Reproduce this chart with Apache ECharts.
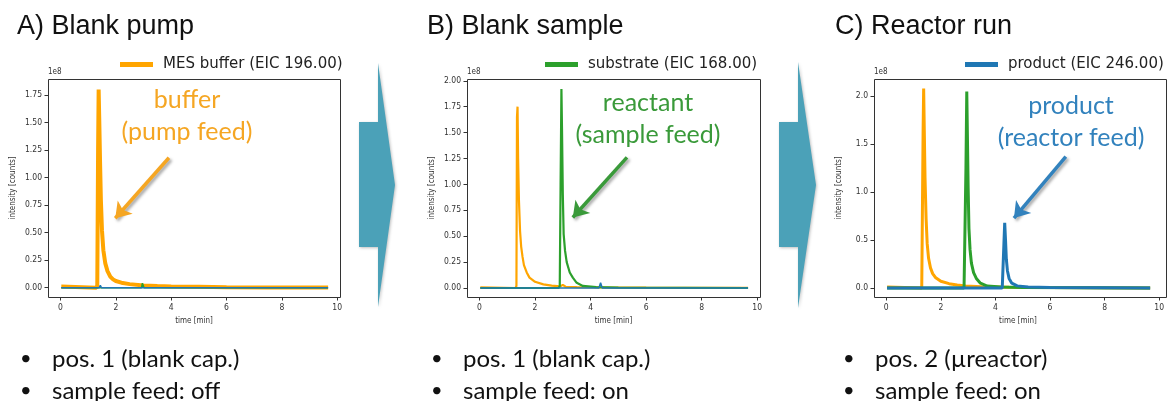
<!DOCTYPE html>
<html>
<head>
<meta charset="utf-8">
<script src="https://cdn.jsdelivr.net/npm/echarts@6/dist/echarts.min.js"></script>
<style>
  html, body { margin: 0; padding: 0; background: #fff; }
  #chart { width: 1167px; height: 401px; }
</style>
</head>
<body>
<div id="chart"></div>
<script>
// retention time [min], intensity [1e8 counts]
// A) blank pump
var pumpBuffer = [[0.03,0.01],[0.08,0],[1.30,0],[1.33,0.02],[1.36,1.25],[1.38,1.80],[1.40,1.55],[1.43,1.15],[1.46,0.80],[1.50,0.52],[1.55,0.34],[1.62,0.22],[1.70,0.15],[1.80,0.10],[1.90,0.075],[2.00,0.06],[2.20,0.045],[2.50,0.032],[3.00,0.02],[3.50,0.014],[4.00,0.01],[5.00,0.007],[6.00,0.004],[7.50,0.002],[9.67,0.001]];
var pumpSubstrate = [[0.03,0],[2.93,0],[2.96,0.04],[2.99,0.03],[3.02,0],[9.67,0]];
var pumpProduct = [[0.03,0],[1.40,0],[1.44,0.02],[1.48,0],[9.67,0]];

// B) blank sample
var sampleBuffer = [[0.03,0.005],[1.30,0],[1.33,0.02],[1.35,1.65],[1.37,1.75],[1.39,1.25],[1.42,0.85],[1.46,0.55],[1.50,0.40],[1.55,0.30],[1.60,0.22],[1.70,0.15],[1.80,0.10],[2.00,0.06],[2.30,0.035],[2.60,0.022],[2.90,0.015],[3.00,0.03],[3.10,0.012],[3.50,0.008],[4.50,0.005],[6.00,0.003],[9.67,0.001]];
var sampleSubstrate = [[0.03,0],[2.85,0],[2.89,0.02],[2.92,1.0],[2.95,1.92],[2.97,1.55],[3.00,0.90],[3.03,0.52],[3.08,0.36],[3.14,0.25],[3.25,0.15],[3.36,0.10],[3.50,0.05],[3.72,0.02],[4.20,0.008],[5.00,0.004],[9.67,0]];
var sampleProduct = [[0.03,0],[4.30,0],[4.36,0.05],[4.42,0],[9.67,0]];

// C) reactor run
var reactorBuffer = [[0.03,0.01],[0.08,0],[1.30,0],[1.33,0.02],[1.35,1.65],[1.37,2.08],[1.39,1.70],[1.42,1.15],[1.46,0.72],[1.50,0.46],[1.55,0.31],[1.62,0.21],[1.70,0.15],[1.80,0.11],[2.00,0.07],[2.30,0.045],[2.60,0.032],[2.90,0.02],[3.50,0.012],[4.50,0.007],[6.00,0.004],[9.67,0.001]];
var reactorSubstrate = [[0.03,0],[2.85,0],[2.88,0.02],[2.92,1.25],[2.95,2.05],[2.97,1.65],[3.00,1.05],[3.03,0.62],[3.07,0.40],[3.12,0.26],[3.20,0.16],[3.30,0.10],[3.45,0.05],[3.70,0.02],[4.20,0.01],[5.00,0.004],[9.67,0]];
var reactorProduct = [[0.03,0],[1.33,0],[1.36,0.02],[1.40,0],[4.25,0],[4.28,0.02],[4.31,0.45],[4.34,0.68],[4.37,0.50],[4.40,0.30],[4.44,0.18],[4.50,0.10],[4.60,0.05],[4.80,0.022],[5.20,0.01],[6.00,0.004],[9.67,0]];

var panelTitles = ['A) Blank pump', 'B) Blank sample', 'C) Reactor run'];
var legendNames = ['MES buffer (EIC 196.00)', 'substrate (EIC 168.00)', 'product (EIC 246.00)'];
var noteLines = [['buffer', '(pump feed)'], ['reactant', '(sample feed)'], ['product', '(reactor feed)']];
// arrow start / end in data coords
var noteArrows = [[[3.92, 1.18], [1.98, 0.63]], [[5.31, 1.26], [3.36, 0.68]], [[6.58, 1.37], [4.68, 0.73]]];
var bulletLines = [
  ['pos. 1 (blank cap.)', 'sample feed: off'],
  ['pos. 1 (blank cap.)', 'sample feed: on'],
  ['pos. 2 (\u00b5reactor)', 'sample feed: on']
];
// axis ranges (matplotlib-like margins) and tick steps
var xRange = [-0.45, 10.1];
var xStep = 2;
var yRanges = [[-0.085, 1.895], [-0.087, 2.017], [-0.094, 2.18]];
var ySteps = [0.25, 0.25, 0.5];

var ORANGE = '#ffa500', GREEN = '#2ca02c', BLUE = '#1f77b4';
var noteColors = ['#f5a623', '#3a9a3a', '#3282bd'];
var TICK_FONT = "'Liberation Sans Narrow', 'DejaVu Sans Condensed', 'DejaVu Sans', sans-serif";

// plot frames (pixels)
var frames = [
  { x: 48, y: 79, w: 292, h: 218 },
  { x: 467, y: 79, w: 293, h: 218 },
  { x: 874, y: 79, w: 292, h: 218 }
];
var titleX = [17, 427, 835];
var legendX = [120, 545, 965];
var noteX = [187, 648, 1071];
var noteY = [100, 103, 106];
var bulletX = [20, 431, 843];

var chart = echarts.init(document.getElementById('chart'));

function line(name, data, color, width, g, extra) {
  var s = {
    name: name, type: 'line', data: data,
    xAxisIndex: g, yAxisIndex: g,
    showSymbol: false, clip: false, animation: false,
    lineStyle: { color: color, width: width },
    itemStyle: { color: color }
  };
  return Object.assign(s, extra || {});
}

function arrowMark(g, color) {
  return {
    markLine: {
      silent: true, animation: false,
      symbol: ['none', 'arrow'], symbolSize: 15,
      label: { show: false },
      lineStyle: {
        color: color, width: 3.5, type: 'solid',
        shadowBlur: 3, shadowColor: 'rgba(0,0,0,0.35)', shadowOffsetX: 2, shadowOffsetY: 2
      },
      data: [[{ coord: noteArrows[g][0] }, { coord: noteArrows[g][1] }]]
    }
  };
}

var series = [
  line('A buffer', pumpBuffer, ORANGE, 4, 0),
  line('A substrate', pumpSubstrate, GREEN, 1.5, 0),
  line('A product', pumpProduct, BLUE, 1.5, 0, arrowMark(0, noteColors[0])),
  line('B buffer', sampleBuffer, ORANGE, 2.2, 1),
  line('B substrate', sampleSubstrate, GREEN, 2.2, 1, arrowMark(1, noteColors[1])),
  line('B product', sampleProduct, BLUE, 1.5, 1),
  line('C buffer', reactorBuffer, ORANGE, 3, 2),
  line('C substrate', reactorSubstrate, GREEN, 3, 2),
  line('C product', reactorProduct, BLUE, 3, 2, arrowMark(2, noteColors[2])),
  // legend-only entries
  line(legendNames[0], [], ORANGE, 5, 0),
  line(legendNames[1], [], GREEN, 5, 1),
  line(legendNames[2], [], BLUE, 5, 2)
];

function isStep(v, step) {
  var r = v / step;
  return Math.abs(r - Math.round(r)) < 1e-6;
}

var grids = [], xAxes = [], yAxes = [], legends = [], graphics = [];
for (var i = 0; i < 3; i++) {
  var fr = frames[i];
  grids.push({ left: fr.x, top: fr.y, width: fr.w, height: fr.h });
  xAxes.push({
    gridIndex: i, type: 'value', min: xRange[0], max: xRange[1],
    minInterval: xStep, maxInterval: xStep,
    axisLine: { show: false, onZero: false },
    axisTick: { show: true, length: 3.5, lineStyle: { color: '#333' } },
    splitLine: { show: false },
    axisLabel: {
      fontSize: 8.5, color: '#333', margin: 6, fontFamily: TICK_FONT,
      showMinLabel: false, showMaxLabel: false,
      formatter: function (v) { return isStep(v, xStep) ? String(Math.round(v)) : ''; }
    },
    name: 'time [min]', nameLocation: 'middle', nameGap: 16,
    nameTextStyle: { fontSize: 8, color: '#333', fontFamily: TICK_FONT }
  });
  (function (step) {
    yAxes.push({
      gridIndex: i, type: 'value', min: yRanges[i][0], max: yRanges[i][1],
      minInterval: step, maxInterval: step,
      axisLine: { show: false, onZero: false },
      axisTick: { show: true, length: 3.5, lineStyle: { color: '#333' } },
      splitLine: { show: false },
      axisLabel: {
        fontSize: 8.5, color: '#333', margin: 6, fontFamily: TICK_FONT,
        showMinLabel: false, showMaxLabel: false,
        formatter: function (v) { return isStep(v, step) ? v.toFixed(step < 0.5 ? 2 : 1) : ''; }
      },
      name: 'intensity [counts]', nameLocation: 'middle', nameGap: 31,
      nameTextStyle: { fontSize: 8, color: '#333', fontFamily: TICK_FONT }
    });
  })(ySteps[i]);
  legends.push({
    data: [legendNames[i]], left: legendX[i], top: 57,
    icon: 'rect', itemWidth: 33, itemHeight: 5, padding: 0,
    selectedMode: false,
    textStyle: { fontSize: 15, color: '#222', fontFamily: "'DejaVu Sans', sans-serif", padding: [0, 0, 0, 5] }
  });
  // frame
  graphics.push({
    type: 'rect', silent: true, z: 10,
    shape: { x: fr.x + 0.5, y: fr.y + 0.5, width: fr.w, height: fr.h },
    style: { fill: 'none', stroke: '#333', lineWidth: 1 }
  });
  graphics.push({
    type: 'text', silent: true, left: fr.x, top: fr.y - 11,
    style: { text: '1e8', fontSize: 8, fill: '#333', fontFamily: TICK_FONT }
  });
  // panel title
  graphics.push({
    type: 'text', silent: true, x: titleX[i], y: 27,
    style: { text: panelTitles[i], fontSize: 27, fill: '#111', fontFamily: "'Liberation Sans', Arial, sans-serif", verticalAlign: 'middle' }
  });
  // annotation text
  for (var k = 0; k < 2; k++) {
    graphics.push({
      type: 'text', silent: true, x: noteX[i], y: noteY[i] + k * 32,
      style: { text: noteLines[i][k], fontSize: 25, fill: noteColors[i], fontFamily: "Lato, 'Open Sans', sans-serif", align: 'center', verticalAlign: 'middle' }
    });
  }
  // bullets
  for (var b = 0; b < 2; b++) {
    graphics.push({
      type: 'text', silent: true, x: bulletX[i], y: 359 + b * 32,
      style: { text: '\u2022', fontSize: 20, fill: '#111', fontFamily: "Lato, sans-serif", verticalAlign: 'middle' }
    });
    graphics.push({
      type: 'text', silent: true, x: bulletX[i] + 32, y: 359 + b * 32,
      style: { text: bulletLines[i][b], fontSize: 24, fill: '#111', fontFamily: "Lato, sans-serif", verticalAlign: 'middle' }
    });
  }
}

// chevrons between panels
var chevrons = [
  [[378, 63], [395, 185], [378, 307], [378, 247], [359, 247], [359, 122], [378, 122]],
  [[798, 62], [816, 185], [798, 308], [798, 247], [779, 247], [779, 122], [798, 122]]
];
chevrons.forEach(function (pts) {
  graphics.push({
    type: 'polygon', silent: true,
    shape: { points: pts },
    style: { fill: '#4ba1b8', shadowBlur: 3, shadowColor: 'rgba(0,0,0,0.25)', shadowOffsetX: 1, shadowOffsetY: 1 }
  });
});

chart.setOption({
  animation: false,
  backgroundColor: '#fff',
  grid: grids,
  xAxis: xAxes,
  yAxis: yAxes,
  legend: legends,
  series: series,
  graphic: graphics
});
</script>
</body>
</html>
